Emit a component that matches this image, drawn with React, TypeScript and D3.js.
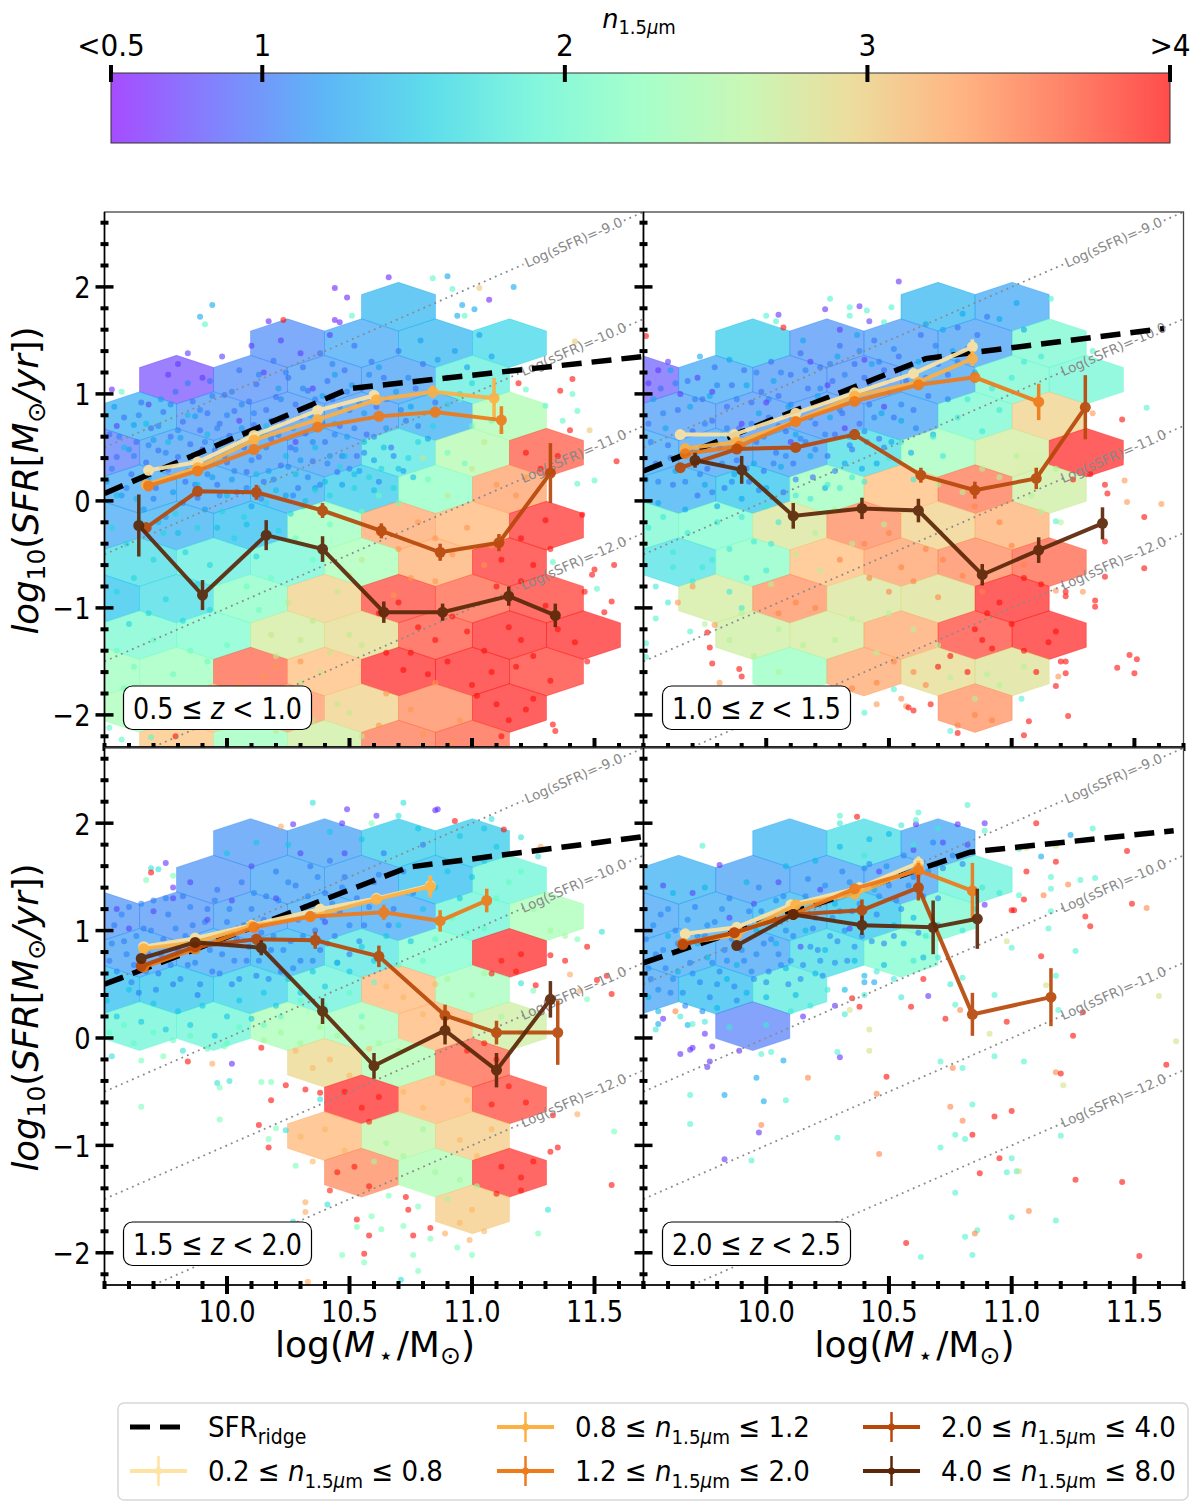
import React from 'react';
import * as d3 from 'd3';

const FONT = '"DejaVu Sans", sans-serif';
const xDomain: [number, number] = [9.5, 11.7];
const yDomain: [number, number] = [-2.3, 2.7];
const xMajor = [10, 10.5, 11, 11.5];
const xMinor = [9.5, 9.6, 9.7, 9.8, 9.9, 10.1, 10.2, 10.3, 10.4, 10.6, 10.7, 10.8, 10.9, 11.1, 11.2, 11.3, 11.4, 11.6, 11.7];
const yMajor = [-2, -1, 0, 1, 2];
const yMinor = [-2.2, -1.8, -1.6, -1.4, -1.2, -0.8, -0.6, -0.4, -0.2, 0.2, 0.4, 0.6, 0.8, 1.2, 1.4, 1.6, 1.8, 2.2, 2.4, 2.6];
const ssfrValues = [-9, -10, -11, -12];
const cbarTicks = [0.5, 1, 2, 3, 4];
const cbarLabels = ['<0.5', '1', '2', '3', '>4'];
const cbarStops = [0, 0.1, 0.2, 0.3, 0.4, 0.5, 0.6, 0.7, 0.8, 0.9, 1];
const zLabels = [['0.5', '1.0'], ['1.0', '1.5'], ['1.5', '2.0'], ['2.0', '2.5']];
const legendRanges = [['0.2', '0.8'], ['0.8', '1.2'], ['1.2', '2.0'], ['2.0', '4.0'], ['4.0', '8.0']];
const seriesColors = ['#fee3a2', '#fdb043', '#ee7a1a', '#b8480a', '#5c2708'];

// hexagon lattice of the binned maps
const hexX0 = 10.70, hexXStep = 0.151, hexY0 = 1.815, hexYStep = 0.341;

// each row: list of [column, median n]
const hex1 = [
  [[0, 1.3]],
  [[-3, 1.05], [-1, 1.2], [1, 1.3], [3, 1.55]],
  [[-6, 0.72], [-4, 1.05], [-2, 1.12], [0, 1.15], [2, 1.8]],
  [[-7, 1.25], [-5, 1.1], [-3, 1.1], [-1, 1.12], [1, 1.25], [3, 2.45]],
  [[-8, 0.95], [-6, 1.15], [-4, 1.15], [-2, 1.15], [0, 1.7], [2, 2.5], [4, 3.75]],
  [[-7, 1.2], [-5, 1.2], [-3, 1.25], [-1, 1.45], [1, 2.2], [3, 3.35]],
  [[-8, 1.2], [-6, 1.25], [-4, 1.35], [-2, 2.3], [0, 3.3], [2, 3.2], [4, 3.95]],
  [[-7, 1.6], [-5, 1.8], [-3, 1.95], [-1, 2.4], [1, 3.25], [3, 3.95]],
  [[-8, 1.4], [-6, 1.6], [-4, 2.15], [-2, 3.0], [0, 3.85], [2, 3.7], [4, 3.9]],
  [[-7, 2.0], [-5, 2.05], [-3, 2.75], [-1, 2.9], [1, 3.8], [3, 4], [5, 4]],
  [[-8, 2.3], [-6, 2.3], [-4, 3.7], [-2, 3.15], [0, 4], [2, 4], [4, 3.9]],
  [[-7, 2.4], [-5, 3.1], [-3, 3.4], [-1, 3.0], [1, 3.5], [3, 4]],
  [[-6, 3.1], [-4, 2.3], [-2, 2.7], [0, 3.6], [2, 3.7]],
];
const hex2 = [
  [[0, 1.3], [2, 1.2]],
  [[-5, 1.45], [-3, 1.08], [-1, 1.12], [1, 1.15], [3, 2.0]],
  [[-8, 0.8], [-6, 1.2], [-4, 1.1], [-2, 1.08], [0, 1.18], [2, 2.0], [4, 1.95]],
  [[-7, 1.12], [-5, 1.1], [-3, 1.1], [-1, 1.18], [1, 2.0], [3, 3.0]],
  [[-8, 1.2], [-6, 1.18], [-4, 1.18], [-2, 1.6], [0, 2.35], [2, 2.75], [4, 4]],
  [[-7, 1.25], [-5, 1.4], [-3, 2.3], [-1, 3.15], [1, 3.6], [3, 2.7]],
  [[-8, 2.0], [-6, 2.05], [-4, 2.8], [-2, 3.5], [0, 3.0], [2, 3.25]],
  [[-7, 1.65], [-5, 2.15], [-3, 3.15], [-1, 3.35], [1, 3.5], [3, 3.7]],
  [[-6, 2.75], [-4, 3.45], [-2, 2.8], [0, 2.85], [2, 4]],
  [[-5, 2.7], [-3, 2.75], [-1, 3.3], [1, 3.85], [3, 4]],
  [[-4, 2.25], [-2, 3.3], [0, 2.9], [2, 2.85]],
  [[1, 3.45]],
];
const hex3 = [
  [[-4, 1.1], [-2, 1.15], [0, 1.45], [2, 1.45]],
  [[-5, 1.08], [-3, 1.18], [-1, 1.18], [1, 1.35], [3, 1.9]],
  [[-8, 1.08], [-6, 1.08], [-4, 1.15], [-2, 1.2], [0, 1.2], [2, 1.9], [4, 2.4]],
  [[-7, 1.15], [-5, 1.2], [-3, 1.3], [-1, 1.7], [1, 2.05], [3, 4]],
  [[-8, 1.35], [-6, 1.4], [-4, 1.5], [-2, 1.85], [0, 3.2], [2, 2.35]],
  [[-7, 1.9], [-5, 1.9], [-3, 2.4], [-1, 2.35], [1, 3.2], [3, 2.7]],
  [[-2, 2.95], [0, 2.45], [2, 3.7]],
  [[-1, 4], [1, 3.2], [3, 3.85]],
  [[-2, 3.2], [0, 2.6], [2, 3.05]],
  [[-1, 3.5], [1, 2.45], [3, 3.95]],
  [[2, 3.05]],
];
const hex4 = [
  [[-4, 1.28], [-2, 1.6], [0, 1.18]],
  [[-7, 1.25], [-5, 1.15], [-3, 1.18], [-1, 1.18], [1, 1.85]],
  [[-8, 1.18], [-6, 1.22], [-4, 1.3], [-2, 1.4], [0, 2.0]],
  [[-7, 1.2], [-5, 1.18], [-3, 1.6], [-1, 2.05]],
  [[-8, 1.18], [-6, 1.35], [-4, 1.75]],
  [[-5, 0.98]],
];

// ridge lines
const ridge1 = [[9.5, 0.07], [10.5, 1.05], [11.7, 1.35]];
const ridge2 = [[9.5, 0.28], [10.65, 1.33], [11.62, 1.61]];
const ridge3 = [[9.5, 0.5], [10.74, 1.59], [11.7, 1.875]];
const ridge4 = [[9.5, 0.7], [10.83, 1.73], [11.66, 1.93]];

// median tracks: mass, sfr, error
const track1 = [
  { x: [9.68, 9.88, 10.11, 10.37, 10.6], y: [0.286, 0.363, 0.612, 0.845, 0.985], e: [0.03, 0.03, 0.03, 0.03, 0.05] },
  { x: [9.67, 9.88, 10.11, 10.37, 10.61, 10.84, 11.09], y: [0.15, 0.31, 0.57, 0.76, 0.945, 1.02, 0.96], e: [0.03, 0.03, 0.03, 0.03, 0.04, 0.06, 0.19] },
  { x: [9.68, 9.88, 10.11, 10.37, 10.62, 10.85, 11.12], y: [0.14, 0.28, 0.48, 0.69, 0.79, 0.83, 0.755], e: [0.03, 0.03, 0.03, 0.03, 0.04, 0.05, 0.13] },
  { x: [9.67, 9.88, 10.12, 10.39, 10.63, 10.87, 11.11, 11.32], y: [-0.25, 0.09, 0.08, -0.09, -0.28, -0.48, -0.39, 0.26], e: [0.05, 0.03, 0.07, 0.07, 0.07, 0.08, 0.08, 0.28] },
  { x: [9.64, 9.9, 10.16, 10.39, 10.64, 10.88, 11.15, 11.34], y: [-0.23, -0.88, -0.32, -0.45, -1.04, -1.04, -0.89, -1.07], e: [0.29, 0.14, 0.14, 0.12, 0.1, 0.08, 0.09, 0.11] },
];
const track2 = [
  { x: [9.65, 9.87, 10.12, 10.36, 10.6, 10.84], y: [0.62, 0.62, 0.82, 1.01, 1.19, 1.44], e: [0.03, 0.03, 0.03, 0.03, 0.03, 0.07] },
  { x: [9.67, 9.88, 10.12, 10.36, 10.62, 10.84], y: [0.49, 0.55, 0.745, 0.98, 1.11, 1.33], e: [0.03, 0.03, 0.03, 0.03, 0.03, 0.07] },
  { x: [9.67, 9.89, 10.12, 10.36, 10.62, 10.85, 11.11], y: [0.44, 0.51, 0.74, 0.93, 1.085, 1.155, 0.925], e: [0.03, 0.03, 0.03, 0.03, 0.03, 0.05, 0.17] },
  { x: [9.65, 9.88, 10.12, 10.36, 10.63, 10.85, 11.1, 11.3], y: [0.31, 0.485, 0.5, 0.62, 0.24, 0.1, 0.21, 0.875], e: [0.03, 0.04, 0.04, 0.05, 0.07, 0.08, 0.1, 0.3] },
  { x: [9.71, 9.9, 10.11, 10.39, 10.62, 10.88, 11.11, 11.37], y: [0.38, 0.29, -0.14, -0.07, -0.09, -0.69, -0.46, -0.21], e: [0.07, 0.13, 0.12, 0.1, 0.11, 0.1, 0.12, 0.15] },
];
const track3 = [
  { x: [9.66, 9.87, 10.1, 10.38, 10.61, 10.83], y: [0.85, 0.93, 1.05, 1.2, 1.3, 1.42], e: [0.03, 0.03, 0.03, 0.03, 0.04, 0.09] },
  { x: [9.66, 9.87, 10.1, 10.34, 10.61, 10.83], y: [0.83, 0.89, 1.04, 1.13, 1.29, 1.41], e: [0.03, 0.03, 0.03, 0.03, 0.04, 0.1] },
  { x: [9.66, 9.87, 10.11, 10.34, 10.64, 10.87, 11.06], y: [0.66, 0.83, 1.03, 1.13, 1.17, 1.09, 1.28], e: [0.03, 0.03, 0.03, 0.05, 0.07, 0.1, 0.11] },
  { x: [9.65, 9.87, 10.12, 10.36, 10.62, 10.89, 11.1, 11.35], y: [0.67, 0.85, 0.92, 0.91, 0.76, 0.21, 0.05, 0.05], e: [0.03, 0.04, 0.05, 0.08, 0.1, 0.1, 0.11, 0.3] },
  { x: [9.65, 9.87, 10.14, 10.39, 10.6, 10.89, 11.1, 11.32], y: [0.74, 0.89, 0.84, 0.25, -0.26, 0.07, -0.3, 0.36], e: [0.04, 0.04, 0.07, 0.12, 0.12, 0.13, 0.16, 0.17] },
];
const track4 = [
  { x: [9.67, 9.88, 10.1, 10.38, 10.62], y: [0.97, 1.03, 1.24, 1.4, 1.63], e: [0.03, 0.03, 0.03, 0.03, 0.06] },
  { x: [9.66, 9.88, 10.12, 10.36, 10.62], y: [0.88, 0.96, 1.24, 1.34, 1.58], e: [0.03, 0.03, 0.03, 0.03, 0.07] },
  { x: [9.66, 9.87, 10.11, 10.36, 10.62, 10.84], y: [0.88, 0.98, 1.15, 1.39, 1.56, 1.37], e: [0.03, 0.04, 0.04, 0.04, 0.07, 0.26] },
  { x: [9.66, 9.87, 10.11, 10.39, 10.62, 10.84, 11.16], y: [0.87, 0.98, 1.15, 1.19, 1.4, 0.22, 0.38], e: [0.03, 0.03, 0.05, 0.1, 0.12, 0.2, 0.27] },
  { x: [9.88, 10.11, 10.39, 10.68, 10.86], y: [0.86, 1.15, 1.05, 1.03, 1.11], e: [0.04, 0.05, 0.09, 0.25, 0.28] },
];

// scatter points: each list starts with n, then mass, sfr pairs
const dots1 = [
  [1.0, 9.52,.62,9.55,.41,9.58,.78,9.61,.25,9.63,.55,9.65,.92,9.67,.36,9.69,.68,9.71,.12,9.72,.47,9.74,.83,9.76,.29,9.77,.6,9.79,1.02,9.8,.41,9.82,.74,9.83,.18,9.85,.53,9.86,.93,9.88,.03,9.89,.66,9.9,.32,9.92,.82,9.93,1.12,9.95,.47,9.96,.15,9.97,.72,9.99,.99,10.0,.36,10.01,.61,10.03,.84,10.04,.08,10.05,1.22,10.07,.5,10.08,.27,10.09,.93,10.11,.71,10.12,1.09,10.13,.41,10.15,.18,10.16,.85,10.18,.58,10.19,1.31,10.2,.97,10.22,.33,10.23,.74,10.25,1.15,10.26,.5,10.28,.9,10.29,.12,10.31,1.25,10.32,.63,10.33,1.03,10.35,.37,10.37,.82,10.38,1.38,10.4,.55,10.41,1.12,10.43,.95,10.45,.27,10.46,.7,10.48,1.22,10.5,.85,10.52,1.45,10.53,.42,10.55,1.05,10.57,.62,10.59,1.3,10.61,.88,10.64,1.15,10.67,.5,10.7,1.4,10.73,.75,10.77,1.05,10.8,1.28,10.85,.92,10.9,1.15],
  [1.1, 9.53,.3,9.56,.6,9.59,.12,9.62,.42,9.64,.8,9.66,.2,9.68,.52,9.7,.02,9.72,.7,9.75,.45,9.77,.9,9.78,.22,9.8,.66,9.82,-.02,9.84,1.1,9.86,.42,9.87,.15,9.89,.85,9.91,.55,9.92,.25,9.94,.98,9.96,.68,9.97,.05,9.99,.42,10.0,.8,10.02,1.02,10.03,.28,10.05,.55,10.06,.9,10.08,.12,10.1,.38,10.11,.82,10.13,1.18,10.14,.02,10.16,.5,10.18,.75,10.19,.2,10.21,.62,10.22,.95,10.24,1.2,10.25,.32,10.27,.05,10.28,.48,10.3,.78,10.31,1.05,10.33,.22,10.35,.55,10.36,.95,10.38,.15,10.39,.72,10.41,.35,10.43,1.28,10.44,.62,10.46,.88,10.47,.42,10.49,1.02,10.5,.3,10.52,.68,10.54,.92,10.56,.45,10.58,1.18,10.6,.6,10.62,.18,10.65,.95,10.68,.42,10.71,.85,10.74,1.15,10.78,.7],
  [1.25, 9.51,.18,9.54,.88,9.57,.05,9.6,.48,9.62,.71,9.66,-.08,9.68,.22,9.7,.57,9.73,.95,9.75,-.15,9.78,.08,9.81,.59,9.84,.28,9.87,.79,9.91,-.08,9.94,.22,9.98,.55,10.02,.2,10.06,.68,10.1,-.05,10.14,.63,10.17,.28,10.21,1.05,10.24,.05,10.27,.68,10.3,.38,10.34,.8,10.36,.12,10.39,.98,10.42,.42,10.44,1.18,10.47,.15,10.49,.6,10.51,1.08,10.54,.28,10.56,.82,10.6,.38,10.62,1.25,10.65,.68,10.69,1.02,10.72,.28,10.75,.88,10.79,1.5,10.82,.58,10.86,1.32,10.93,1.4,10.98,1.25,11.03,1.55,11.08,1.35],
  [1.45, 9.55,.05,9.58,.5,9.63,.02,9.67,.72,9.72,-.2,9.76,.55,9.8,-.3,9.84,.8,9.88,.15,9.92,.62,9.96,-.25,10.0,.05,10.04,.5,10.08,-.22,10.12,.25,10.16,.7,10.2,.1,10.24,.42,10.28,.25,10.32,.0,10.36,.5,10.4,.18,10.44,.72,10.48,.42,10.52,.25,10.56,.55,10.6,.1,10.64,.5,10.7,.3,10.76,.22],
  [1.6, 9.53,-.25,9.59,-.4,9.64,-.18,9.7,-.55,9.74,-.3,9.79,-.12,9.83,-.48,9.88,-.25,9.93,-.6,9.98,-.1,10.03,-.35,10.07,-.15,10.12,-.52,10.16,-.02,10.21,-.28,10.26,-.12,10.31,-.05,10.36,.1,10.42,.05,10.46,.32,10.52,.12,10.58,.22,10.63,.3,10.68,.12,10.74,.4,10.78,.55,10.84,.7,10.9,.9,10.95,1.0,11.0,1.1,9.55,-.85,9.62,-.72,9.68,-1.05,9.75,-.92,9.82,-1.12,9.88,-.78,9.93,-1.02,9.6,-1.15],
  [0.75, 9.8,1.28,9.84,1.38,9.76,1.18,9.9,1.15,9.98,1.35,10.1,1.45,10.22,1.5,10.3,1.38,10.42,1.55,10.15,1.2,9.68,.9,9.55,.7,9.9,.48,10.05,.75,10.28,.55,10.35,1.05],
  [2.1, 9.55,-1.4,9.62,-1.55,9.7,-1.3,9.78,-1.62,9.85,-1.4,9.92,-1.5,10.0,-1.35,10.08,-.8,10.13,-1.02,10.18,-.72,10.28,-.35,10.35,-.55,10.42,-.22,10.55,-.1,10.62,.05,10.7,-.02,10.82,.2,10.9,.45,10.97,.35,11.0,.7,9.58,-1.75,9.7,-1.85,9.83,-1.78,10.95,.95,11.08,.75],
  [2.7, 10.25,-.95,10.35,-1.12,10.45,-.85,10.5,-1.25,10.42,-1.42,10.3,-1.3,10.2,-1.45,10.18,-1.25,10.38,-1.6,10.5,-.7,10.55,-.55,10.9,.05,11.0,.3,11.05,.55,11.12,.65,10.8,.4,10.55,-1.35,10.3,-1.7,10.45,-1.9,10.35,-2.05,10.5,-1.98,10.55,-2.2,10.2,-2.15],
  [3.3, 10.62,-.3,10.7,-.45,10.78,-.2,10.85,-.35,10.92,-.5,10.98,-.25,11.05,-.6,10.75,-.72,10.85,-.75,10.68,-.88,11.1,.15,11.18,.05,11.22,.22,10.15,-1.65,10.05,-1.72,10.2,-1.55,10.3,-1.5,10.65,-1.8,10.75,-1.95,10.85,-1.7,10.95,-2.05,10.62,-2.1,10.8,-2.18,10.92,-2.25,11.08,-.42],
  [3.95, 10.62,-1.05,10.7,-.95,10.78,-1.18,10.85,-1.3,10.92,-1.08,10.98,-1.22,11.05,-1.4,11.1,-.8,11.15,-1.18,11.2,-1.3,11.25,-1.45,11.3,-.98,11.35,-1.2,11.42,-1.32,11.47,-1.5,10.72,-1.58,10.82,-1.62,10.9,-1.5,11.0,-1.72,11.08,-1.6,11.18,-1.55,11.25,-1.85,11.32,-1.68,10.65,-1.42,10.75,-1.42,11.02,-1.82,11.1,-1.9,11.15,-2.05,11.22,-1.95,11.12,-2.2,11.2,-.35,11.25,-.6,11.32,-.45,11.22,.45,11.28,.3,11.35,.42,11.3,-.18,11.2,-.75,11.12,-.55],
  [0.65, 9.53,1.04,10.17,1.68,10.44,1.99,10.49,1.9,10.44,1.69,10.46,1.67,10.66,2.09,11.07,1.88],
  [1.3, 9.89,1.72,9.94,1.83,10.96,1.83,10.94,1.73,11.01,1.79,10.9,2.1,11.17,2.0],
  [2.0, 9.57,1.02,9.91,1.65,10.51,1.73,10.84,2.08,10.92,1.98,10.97,1.73,11.22,1.04,11.41,1.0,11.3,.89,11.37,.75,11.43,.84,11.43,.16,11.5,.19,11.33,-.57,11.51,-.82,9.52,-2.12,9.57,-2.23,9.69,-2.21],
  [3.0, 11.03,1.99,11.42,1.49,11.48,.66],
  [3.95, 10.23,1.69,11.41,1.14,11.36,1.03,11.19,1.1,11.4,.66,11.59,.37,11.45,-.13,11.5,-.64,11.49,-.69,11.58,-.6,11.46,-.85,11.57,-.94,11.54,-1.04,11.33,-2.09,11.34,-2.15,9.79,-2.2],
];
const dots2 = [
  [1.0, 9.52,.72,9.55,.35,9.57,1.05,9.6,.52,9.62,.15,9.64,.85,9.66,.42,9.68,1.12,9.7,.65,9.72,.05,9.74,.95,9.76,.3,9.78,.75,9.79,1.25,9.81,.5,9.83,.12,9.84,.88,9.86,1.08,9.88,.38,9.89,.68,9.91,1.22,9.93,.18,9.94,.92,9.96,.55,9.98,1.02,9.99,.28,10.01,.78,10.02,1.3,10.04,.45,10.05,.98,10.07,.08,10.08,.65,10.1,1.18,10.11,.35,10.13,.85,10.14,1.38,10.16,.55,10.17,1.05,10.19,.22,10.2,.72,10.22,1.25,10.23,.92,10.25,.42,10.27,1.12,10.28,.62,10.3,1.45,10.31,.82,10.33,1.02,10.35,.48,10.36,1.28,10.38,.72,10.4,1.15,10.42,.9,10.44,1.5,10.46,.58,10.48,1.22,10.5,1.02,10.52,.78,10.54,1.35,10.57,1.12,10.6,.85,10.63,1.55,10.66,.98,10.7,1.28,10.74,1.18,10.78,1.62,10.82,1.42,10.86,1.55,10.9,1.72],
  [1.1, 9.53,.55,9.56,.18,9.58,.82,9.61,.4,9.63,1.1,9.65,.62,9.67,.18,9.69,.48,9.71,.95,9.73,.25,9.75,.72,9.77,.52,9.78,.08,9.8,1.08,9.82,.35,9.84,.68,9.86,.18,9.88,.95,9.9,.5,9.92,.3,9.94,.72,9.96,1.2,9.97,.1,9.99,.6,10.01,.95,10.03,.35,10.05,.7,10.06,1.2,10.08,.42,10.1,.9,10.12,.2,10.14,.58,10.16,1.22,10.18,.78,10.2,.48,10.22,1.05,10.24,.62,10.26,1.28,10.28,.28,10.3,.85,10.32,1.18,10.34,.52,10.36,.92,10.38,1.4,10.4,.65,10.42,1.1,10.44,.78,10.46,1.3,10.48,.5,10.5,1.12,10.52,1.42,10.55,.9,10.58,1.25,10.61,.68,10.65,1.15,10.69,1.45,10.74,.95,10.78,1.3],
  [1.3, 9.51,.2,9.54,.95,9.56,-.02,9.59,.68,9.61,1.22,9.63,.28,9.67,-.08,9.69,.88,9.71,.45,9.73,1.35,9.75,.15,9.77,.98,9.8,-.05,9.82,.62,9.85,1.32,9.87,.25,9.9,.02,9.92,1.08,9.95,.35,9.97,.82,10.0,.12,10.03,1.12,10.06,.32,10.09,.88,10.12,.62,10.15,1.5,10.18,.42,10.21,.98,10.24,.12,10.26,.78,10.29,1.35,10.32,.35,10.34,.6,10.37,1.55,10.39,.3,10.41,.55,10.43,1.28,10.45,.35,10.47,.82,10.51,.55,10.55,.75,10.59,.45,10.62,1.3,10.65,1.65,10.68,.62,10.72,1.6,10.76,1.4,10.8,1.75,10.85,1.2,10.95,1.7,11.02,1.85,11.05,1.6],
  [0.75, 9.52,1.1,9.56,1.22,9.6,1.3,9.65,1.0,9.72,1.15,9.78,1.02,9.9,.72,10.0,.92,10.1,.55,10.18,1.3,10.25,1.08,10.32,.68,10.4,1.32,10.48,.88,10.3,1.6,10.42,1.68],
  [1.8, 9.52,-.25,9.58,-.15,9.62,-.48,9.68,-.3,9.74,-.62,9.8,-.2,9.85,-.45,9.9,-.15,9.95,-.38,10.0,-.05,10.05,-.2,10.12,.05,10.18,.02,10.25,.15,10.3,.12,10.35,.22,10.4,.18,10.5,.4,10.55,.55,10.6,.2,10.68,.6,10.72,.42,10.78,.78,10.82,.95,10.88,.65,10.92,1.05,10.95,.85,11.0,1.15,11.05,1.3,11.12,1.35,9.55,-.8,9.62,-.62,9.7,-.75,9.78,-.55,9.85,-.85,9.92,-.72,10.0,-.65,10.02,-.4,9.9,-1.0,9.6,-.95],
  [2.6, 10.1,-.15,10.2,-.3,10.28,-.08,10.35,-.4,10.12,-.5,10.22,-.65,10.02,-.78,10.7,.15,10.8,.08,10.88,.3,10.95,.22,11.02,.42,11.08,.05,11.12,-.1,11.2,-.2,11.18,.3,10.48,-.22,9.9,-1.05,9.75,-1.15,9.85,-1.3,9.95,-1.45,10.05,-1.2,10.15,-1.35,10.28,-1.3,10.35,-1.1,10.5,-1.05,10.6,-1.2,10.7,-1.35,10.45,-1.42,10.05,-1.6,10.15,-1.75,10.75,-1.65,10.85,-1.85,10.95,-1.72,11.05,-1.55,10.9,-1.62],
  [3.4, 10.3,-.55,10.4,-.4,10.5,-.3,10.55,-.62,10.65,-.45,10.72,-.55,10.85,-.05,10.95,-.2,11.0,-.42,11.05,-.6,10.42,-.72,10.5,-.85,10.6,-.75,10.7,-.9,10.12,-.95,10.2,-1.0,10.05,-1.05,10.52,-1.5,10.6,-1.6,10.45,-1.7,10.55,-1.85,10.65,-1.72,10.35,-1.75,10.85,-2.0,10.92,-2.05,10.78,-2.1,10.88,-.85,10.8,-.7],
  [3.95, 10.9,-1.05,10.85,-1.2,10.95,-.95,11.0,-1.15,10.88,-1.3,10.75,-1.45,10.82,-1.6,10.92,-1.38,10.7,-1.55,11.05,-1.4,11.15,-1.32,11.22,-1.5,11.1,-1.6,11.18,-1.22,11.05,-.72,11.12,-.78,11.25,.2,11.32,.25,11.38,.15],
  [0.7, 10.54,2.05,10.24,1.79,10.38,1.82,10.05,1.74],
  [1.9, 10.26,1.89,10.34,1.81,10.41,1.78,10.34,1.73,10.51,1.81,10.0,1.73,10.04,1.68,10.48,1.67,11.16,1.89,11.33,1.4,11.55,.87,11.18,-.19,9.69,-1.22,9.55,-1.1,9.51,-1.33,9.51,-1.46,10.52,-1.76,10.4,-1.98,10.75,-2.15,11.04,-1.85],
  [3.3, 11.33,.82,11.46,.19,11.47,-.01,11.61,-.03,11.29,-.85,9.79,-1.16,9.64,-.95,9.7,-.8,9.81,-1.7,11.18,-.84,11.19,-1.64,10.45,-1.9,10.57,-1.92],
  [3.95, 10.07,1.62,9.51,1.54,11.45,.76,11.39,.07,11.54,-.15,11.38,-.38,11.54,-.63,11.38,-.71,11.22,-.85,11.22,-.89,11.34,-.93,11.34,-.99,11.2,-1.5,11.48,-1.44,11.51,-1.48,11.43,-1.56,11.5,-1.61,11.22,-1.61,11.18,-1.73,11.07,-2.06,11.23,-2.01,11.05,-2.19,10.78,-2.17,10.67,-1.9,10.6,-1.96,10.58,-1.93,9.78,-1.52,9.89,-1.57,9.9,-1.64,9.77,-1.37,9.76,-1.23],
];
const dots3 = [
  [1.05, 9.52,.72,9.54,1.05,9.56,.55,9.58,.9,9.6,1.22,9.62,.68,9.64,.42,9.66,1.02,9.68,.78,9.7,1.28,9.72,.6,9.74,.92,9.76,1.15,9.78,.5,9.8,.82,9.82,1.32,9.84,.68,9.86,1.05,9.88,.4,9.9,.88,9.92,1.2,9.94,.62,9.96,1.38,9.98,.78,10.0,1.08,10.02,.5,10.04,.92,10.06,1.45,10.08,.72,10.1,1.2,10.12,.58,10.14,.98,10.16,1.32,10.18,.82,10.2,1.55,10.22,.62,10.24,1.1,10.26,.9,10.28,1.42,10.3,.72,10.32,1.22,10.34,1.6,10.36,1.0,10.38,.82,10.4,1.35,10.42,1.65,10.44,.95,10.46,1.18,10.48,1.5,10.5,.78,10.53,1.3,10.56,1.05,10.6,1.45,10.64,1.72,10.68,1.2,10.72,1.55,10.76,1.35,10.8,1.8],
  [1.1, 9.53,.88,9.55,.62,9.57,1.15,9.59,.78,9.61,.52,9.63,.95,9.65,1.25,9.67,.62,9.69,1.0,9.71,.45,9.73,.78,9.75,1.3,9.77,.68,9.79,1.02,9.81,.55,9.83,.95,9.85,1.22,9.87,.7,9.89,.5,9.91,1.08,9.93,.82,9.95,1.28,9.97,.6,9.99,.95,10.01,1.2,10.03,.72,10.05,.55,10.07,1.05,10.09,.85,10.11,1.35,10.13,.72,10.15,1.1,10.17,.55,10.19,.95,10.21,1.28,10.23,.82,10.25,1.45,10.27,.65,10.29,1.1,10.31,.95,10.33,1.32,10.35,.72,10.37,1.5,10.39,1.12,10.41,.88,10.43,1.25,10.45,.7,10.47,1.4,10.5,1.05,10.54,.9,10.58,1.22,10.62,1.52,10.66,1.05],
  [1.5, 9.51,.35,9.55,.2,9.6,.45,9.65,.15,9.7,.32,9.75,.08,9.8,.25,9.85,.12,9.9,.3,9.95,.02,10.0,.2,10.05,.35,10.1,.18,10.15,.42,10.2,.3,10.25,.55,10.3,.42,10.35,.62,10.4,.48,10.45,.7,10.5,.62,10.55,.85,10.6,.72,10.65,.95,10.7,1.05,10.75,.9,10.8,1.2,10.85,1.4,10.9,1.55,10.95,1.3,11.0,1.5,11.05,1.65,11.1,1.78,10.42,1.92,10.25,1.8,10.55,1.85,10.78,1.95,10.95,1.88,11.05,1.95,10.12,1.82,10.0,1.72],
  [0.8, 9.55,1.2,9.6,1.02,9.7,1.18,9.78,1.3,9.85,1.45,9.92,1.1,10.02,1.28,10.1,1.6,10.2,1.3,10.3,1.72,10.4,1.08,10.48,1.72],
  [2.05, 9.52,.05,9.58,.12,9.62,-.05,9.7,.05,9.78,-.02,9.85,.02,9.92,-.1,10.0,-.05,10.05,.1,10.15,.12,10.22,.2,10.3,.35,10.4,.3,10.5,.42,10.55,.2,10.6,.52,10.7,.68,10.8,.72,10.85,.92,10.92,1.12,10.98,.98,11.05,1.02,11.1,1.3,11.15,1.45,11.2,1.55],
  [2.5, 10.15,-.02,10.22,.05,10.3,-.05,10.38,.1,10.45,.02,10.55,.1,10.62,-.05,10.7,-.12,10.9,.55,11.0,.4,11.05,.6,11.12,.2,11.2,.05,11.25,1.2,11.32,1.0,11.38,.95,10.65,-.98,10.72,-1.1,10.6,-1.15,10.8,-.85,10.85,-1.25,10.95,-1.32,11.02,-1.38,10.9,-1.5],
  [3.1, 10.28,-.12,10.35,-.28,10.42,-.2,10.5,-.35,10.58,-.1,10.65,.48,10.72,.38,10.8,.22,10.85,.5,10.9,.1,10.98,.15,10.72,-.5,10.8,-.65,10.88,-.42,10.98,-.58,10.3,-.92,10.4,-.85,10.48,-1.05,10.35,-1.15,10.95,-.95,11.02,-1.1,11.08,-.85,10.95,-1.72,11.05,-1.8,11.0,-1.6],
  [3.9, 10.48,-.5,10.55,-.65,10.62,-.55,10.58,-.78,11.05,-.05,11.1,-.2,10.98,-.12,11.15,-.45,11.22,-.6,11.08,-.62,11.12,.72,11.18,.62,11.2,.78,11.08,.6,11.12,-1.2,11.2,-1.3,11.25,-1.15,11.1,-1.45,11.2,-1.42,10.45,-1.25,10.52,-1.2,10.58,-1.38,10.42,-1.42],
  [0.7, 10.49,2.13,10.85,2.12,10.86,2.13,10.61,2.07,10.27,1.99,10.47,2.0,9.75,1.63,9.78,1.4,10.02,-.24],
  [1.7, 10.35,2.19,10.72,2.19,10.7,2.07,11.08,2.04,11.2,1.87,9.69,1.58,9.72,1.57,11.27,1.69,11.53,.99,11.2,.51,9.53,-.17,9.82,-.12,9.96,-.42,10.01,-.4,10.38,-.57,10.24,-.86,11.31,-1.6,10.41,-1.55,10.27,-1.71,10.71,-2.25],
  [2.2, 10.59,2.0,9.67,1.47,9.78,1.51,11.43,.92,11.25,.44,11.47,.36,9.65,-.21,9.74,-.17,9.99,-.08,9.97,-.46,10.14,-.41,10.18,-.41,9.97,-.76,10.2,-.84,10.17,-.94,11.58,-.87,11.27,-1.82,10.78,-1.57,10.66,-1.47,10.28,-1.19,10.53,-1.76,10.59,-1.66,10.63,-1.78,10.72,-1.75,10.83,-1.87,10.47,-2.02,10.56,-2.09,10.76,-2.02,10.78,-2.17,10.94,-1.95,11.0,-2.02,9.65,-.64],
  [3.2, 10.22,1.97,11.28,1.78,11.4,.59,11.44,.44,9.94,-.24,11.43,-.71,10.32,-1.53,10.32,-1.62,10.89,-1.82,10.99,-1.88,10.33,-2.27],
  [3.95, 10.93,2.02,11.13,1.94,9.69,1.54,11.47,.85,11.32,.77,11.38,.72,11.26,.49,11.51,.54,11.55,.58,11.57,.41,9.84,-.22,10.14,-.09,10.24,-.44,10.32,-.48,10.18,-.58,10.38,-.51,10.13,-.81,10.17,-1.02,11.33,-.72,11.35,-1.02,11.32,-1.06,11.57,-1.37,10.73,-1.48,10.74,-1.6,10.53,-1.69,10.58,-1.84,10.76,-1.84,10.83,-1.77,10.56,-2.01],
];
const dots4 = [
  [1.1, 9.51,.92,9.53,.55,9.55,.78,9.57,1.15,9.59,.65,9.61,.42,9.63,1.0,9.65,.85,9.67,.3,9.69,.7,9.71,1.22,9.73,.52,9.75,.95,9.77,.38,9.79,1.08,9.81,.62,9.83,.82,9.85,1.3,9.87,.48,9.89,.98,9.91,.72,9.93,1.18,9.95,.55,9.97,1.4,9.99,.88,10.01,.62,10.03,1.1,10.05,.78,10.07,1.32,10.09,.5,10.11,.95,10.13,1.22,10.15,.68,10.17,1.48,10.19,1.02,10.21,.82,10.23,.58,10.25,1.3,10.27,1.12,10.29,.9,10.31,1.55,10.33,.72,10.35,1.18,10.37,1.38,10.39,.95,10.42,1.62,10.45,1.15,10.48,.88,10.5,1.42,10.53,1.28,10.56,1.7,10.6,1.5,10.64,1.32,10.68,1.82,10.72,1.58,10.76,1.7,10.8,1.62],
  [1.15, 9.52,.65,9.54,1.05,9.56,.45,9.58,.82,9.6,1.2,9.62,.55,9.64,.88,9.66,.42,9.68,1.1,9.7,.6,9.72,.95,9.74,.25,9.76,1.05,9.78,.7,9.8,.5,9.82,1.2,9.84,.72,9.86,.92,9.88,.35,9.9,.82,9.92,1.05,9.94,.62,9.96,.78,9.98,1.18,10.0,.52,10.02,.92,10.04,1.28,10.06,.68,10.08,1.0,10.1,.72,10.12,1.15,10.14,.55,10.16,1.32,10.18,.85,10.2,1.12,10.22,.72,10.24,1.42,10.26,.95,10.28,.7,10.3,1.18,10.32,1.0,10.34,1.45,10.36,.85,10.38,1.25,10.4,1.58,10.43,.9,10.46,1.32,10.49,1.6,10.52,.95,10.55,1.2,10.58,1.42,10.62,.98,10.66,1.55,10.7,1.3],
  [1.4, 9.52,.38,9.56,.25,9.6,.95,9.64,.62,9.68,.12,9.72,.88,9.76,.75,9.8,.28,9.84,.55,9.88,.68,9.92,.42,9.96,1.0,10.0,.38,10.04,.88,10.08,.65,10.12,.4,10.16,1.0,10.2,.6,10.24,.82,10.28,1.25,10.32,.45,10.36,.72,10.4,.58,10.44,1.38,10.48,.68,10.52,1.05,10.56,.88,10.6,1.12,10.64,.75,10.7,1.05,10.3,1.78,10.2,1.65,10.42,1.85,10.5,1.9,10.08,1.6,9.92,1.45,9.75,1.4,9.62,1.35],
  [0.8, 9.58,1.42,9.7,1.35,9.85,1.12,9.95,1.25,10.05,1.45,10.14,.85,10.22,1.38,10.34,1.02,10.46,1.55,10.6,1.75,10.72,1.82,10.82,1.8],
  [1.8, 9.55,.08,9.65,.2,9.75,.15,9.85,.1,10.0,.12,10.1,.25,10.18,.3,10.25,.45,10.32,.22,10.4,.4,10.45,.62,10.52,.55,10.55,.38,10.6,.72,10.65,.95,10.7,.75,10.75,.5,10.8,1.0,10.85,1.2,10.88,1.4,10.95,1.35,10.4,1.7,10.3,2.0,10.55,1.98,10.6,1.8,10.7,1.95],
  [0.7, 10.61,1.99,10.89,2.0,10.78,1.99,9.81,1.61,10.89,1.24,10.66,.39,10.28,.3,10.15,.2,9.58,.18,9.75,.04,9.78,-.08,9.7,-.09,9.69,-.11,9.65,-.15,9.89,-.12,9.77,-.22,9.76,-.27,10.3,-.18,9.97,-.88,9.83,-1.13],
  [1.3, 11.24,1.89,11.12,1.69,10.4,.52,10.44,.52,9.56,.13,9.96,-.37,9.83,-.53,9.99,-.59,10.07,-.21],
  [1.9, 10.82,2.17,10.62,2.1,10.3,2.07,10.61,2.03,11.33,1.95,10.89,1.93,9.74,1.79,11.03,1.76,11.16,1.5,11.28,1.47,11.34,1.49,11.16,1.39,11.03,1.33,11.16,1.18,11.15,1.02,11.0,.84,10.93,.4,10.8,.56,10.77,.31,9.7,.13,9.98,-.15,10.02,-.13,10.71,-.22,10.8,-.28,10.93,-.17,11.05,-.22,9.69,-.53,10.08,-.58,9.69,-.8,9.94,-1.14,10.29,-.93,10.84,-.62,10.77,-.9,10.71,-1.02,10.81,-.94,11.0,-1.12,10.98,-1.25,11.02,-1.24,11.2,-.91,10.77,-1.44,11.0,-1.67,11.18,-1.7,10.86,-1.79,10.81,-1.85,10.84,-2.02,10.63,-2.04,11.19,.26,11.18,.58,11.26,.81,10.29,-.13],
  [2.8, 11.18,1.79,11.06,1.77,10.98,.9,11.14,.49,11.6,.39,10.91,.04,11.67,-.03,10.34,.26,10.42,-.12,10.42,.08,11.21,-.44,11.03,-1.24],
  [3.4, 11.23,1.43,11.13,1.33,11.55,1.21,9.63,.25,10.79,.26,10.76,-.28,10.17,-.37,10.45,-.52,10.75,-.64,10.8,-.77,10.46,-1.08,11.18,-.32,9.98,-.81,11.07,-1.61,10.85,-1.82],
  [3.95, 11.1,2.0,11.47,1.74,11.18,1.64,11.06,1.55,11.05,1.29,11.49,1.25,11.3,1.13,11.32,1.04,11.0,1.19,11.01,1.19,11.12,.76,11.29,.24,10.98,.15,11.25,.02,10.73,.18,10.59,.29,10.64,.55,10.35,.37,10.38,.29,10.37,2.06,11.2,-.33,11.63,-.25,10.49,-.36,10.93,-.73,11.0,-.68,10.84,-.9,10.87,-1.26,10.95,-1.12,11.26,-1.32,11.45,-1.34,10.57,-1.91,11.52,-2.03],
];

const allHex = [hex1, hex2, hex3, hex4];
const allRidge = [ridge1, ridge2, ridge3, ridge4];
const allTrack = [track1, track2, track3, track4];
const allDots = [dots1, dots2, dots3, dots4];

const panelBoxes = [
  { l: 104.5, r: 643.5, t: 212, b: 747, boxTop: 686 },
  { l: 643.5, r: 1183.5, t: 212, b: 747, boxTop: 686 },
  { l: 104.5, r: 643.5, t: 748, b: 1285, boxTop: 1222 },
  { l: 643.5, r: 1183.5, t: 748, b: 1285, boxTop: 1222 },
];

function rainbow(n: number, alpha: number) {
  const t = Math.max(0, Math.min(1, (n - 0.5) / 3.5));
  const c = (v: number) => Math.round(255 * Math.max(0, Math.min(1, v)));
  const r = c(Math.abs(2 * t - 0.5));
  const g = c(Math.sin(Math.PI * t));
  const b = c(Math.cos((Math.PI * t) / 2));
  return `rgba(${r},${g},${b},${alpha})`;
}

const Sub = ({ size }: { size: number }) => (
  <tspan dy={size * 0.24} fontSize={size * 0.7}>1.5<tspan fontStyle="italic">μ</tspan>m</tspan>
);

function Panel({ idx }: { idx: number }) {
  const box = panelBoxes[idx];
  const x = d3.scaleLinear().domain(xDomain).range([box.l, box.r]);
  const y = d3.scaleLinear().domain(yDomain).range([box.b, box.t]);
  const pw = hexXStep * (x(1) - x(0));
  const ph = (hexYStep * 2) / 3 * (y(0) - y(1));
  const hexPath = `M0,${-ph}L${pw},${-ph / 2}L${pw},${ph / 2}L0,${ph}L${-pw},${ph / 2}L${-pw},${-ph / 2}Z`;
  const line = d3.line<number[]>().x(d => x(d[0])).y(d => y(d[1]));
  const showX = idx >= 2;
  const clip = `clip${idx}`;
  return (
    <g>
      <defs><clipPath id={clip}><rect x={box.l} y={box.t} width={box.r - box.l} height={box.b - box.t} /></clipPath></defs>
      <rect x={box.l} y={box.t} width={box.r - box.l} height={box.b - box.t} fill="#fff" />
      <g clipPath={`url(#${clip})`}>
        {allHex[idx].map((row, r) => row.map(([c, n]) => (
          <path key={`${r}_${c}`} d={hexPath}
            transform={`translate(${x(hexX0 + c * hexXStep)},${y(hexY0 - r * hexYStep)})`}
            fill={rainbow(n, 0.62)} stroke={rainbow(n, 0.35)} strokeWidth={1} />
        )))}
        {allDots[idx].map((g, k) => d3.range(1, g.length, 2).map(i => (
          <circle key={`${k}_${i}`} cx={x(g[i])} cy={y(g[i + 1])} r={3} fill={rainbow(g[0], 0.6)} />
        )))}
        {ssfrValues.map(s => (
          <g key={s}>
            <path d={line([[9.5, 9.5 + s], [11.21, 11.21 + s]]) || ''} stroke="#8a8a8a" strokeWidth={1.8} strokeDasharray="1.8 4.2" fill="none" />
            <path d={line([[11.62, 11.62 + s], [11.7, 11.7 + s]]) || ''} stroke="#8a8a8a" strokeWidth={1.8} strokeDasharray="1.8 4.2" fill="none" />
            <text x={x(11.415)} y={y(11.415 + s)} dy={4.5} textAnchor="middle" fontFamily={FONT} fontSize={13.5} fill="#888"
              transform={`rotate(-23.6 ${x(11.415)} ${y(11.415 + s)})`}>{`Log(sSFR)=${s}.0`}</text>
          </g>
        ))}
        <path d={line(allRidge[idx]) || ''} stroke="#000" strokeWidth={5.5} strokeDasharray="20 10" fill="none" />
        {allTrack[idx].map((s, k) => (
          <g key={k} opacity={0.92}>
            <path d={line(s.x.map((v, i) => [v, s.y[i]])) || ''} stroke={seriesColors[k]} strokeWidth={4} fill="none" />
            {s.x.map((v, i) => (
              <g key={i}>
                <line x1={x(v)} x2={x(v)} y1={y(s.y[i] - s.e[i])} y2={y(s.y[i] + s.e[i])} stroke={seriesColors[k]} strokeWidth={3.5} />
                <circle cx={x(v)} cy={y(s.y[i])} r={5.5} fill={seriesColors[k]} />
              </g>
            ))}
          </g>
        ))}
      </g>
      <rect x={box.l} y={box.t} width={box.r - box.l} height={box.b - box.t} fill="none" stroke="#444" strokeWidth={1.3} />
      {yMinor.map(v => <line key={v} x1={box.l - 4} x2={box.l + 4} y1={y(v)} y2={y(v)} stroke="#000" strokeWidth={4} />)}
      {yMajor.map(v => <line key={v} x1={box.l - 9} x2={box.l + 9} y1={y(v)} y2={y(v)} stroke="#000" strokeWidth={3.5} />)}
      <line x1={box.l} x2={box.l} y1={box.t} y2={box.b} stroke="#000" strokeWidth={1.6} />
      {xMinor.map(v => <line key={v} x1={x(v)} x2={x(v)} y1={box.b - 4} y2={box.b + 4} stroke="#000" strokeWidth={4} />)}
      {xMajor.map(v => <line key={v} x1={x(v)} x2={x(v)} y1={box.b - 9} y2={box.b + 9} stroke="#000" strokeWidth={4} />)}
      <line x1={box.l} x2={box.r} y1={box.b} y2={box.b} stroke="#000" strokeWidth={1.6} />
      {idx % 2 === 0 && yMajor.map(v => (
        <text key={v} transform={`translate(${box.l - 14},${y(v) + 11.5}) scale(0.83,1)`} textAnchor="end" fontFamily={FONT} fontSize={31}>{d3.format('.0f')(v).replace('-', '−')}</text>
      ))}
      {showX && xMajor.map(v => (
        <text key={v} transform={`translate(${x(v)},${box.b + 37}) scale(0.83,1)`} textAnchor="middle" fontFamily={FONT} fontSize={31}>{d3.format('.1f')(v)}</text>
      ))}
      {showX && (
        <text x={(box.l + box.r) / 2 + 1} y={box.b + 72} textAnchor="middle" fontFamily={FONT} fontSize={36}>
          log(<tspan fontStyle="italic">M</tspan><tspan dx={3} dy={7} fontSize={25}>⋆</tspan><tspan dx={3} dy={-7}>/M</tspan><tspan dy={7} fontSize={25}>⊙</tspan><tspan dy={-7}>)</tspan>
        </text>
      )}
      {idx % 2 === 0 && (
        <text transform={`translate(38,${(box.t + box.b) / 2 + 1}) rotate(-90)`} textAnchor="middle" fontFamily={FONT} fontSize={35.5}>
          <tspan fontStyle="italic">log</tspan><tspan dy={7} fontSize={25}>10</tspan><tspan dy={-7}>(</tspan><tspan fontStyle="italic">SFR</tspan>[<tspan fontStyle="italic">M</tspan><tspan dy={7} fontSize={25}>⊙</tspan><tspan dy={-7} fontStyle="italic">/yr</tspan>])
        </text>
      )}
      <rect x={box.l + 19} y={box.boxTop} width={188} height={43.5} rx={9} fill="#fff" stroke="#000" strokeWidth={1.2} />
      <text transform={`translate(${box.l + 113},${box.boxTop + 33}) scale(0.82,1)`} textAnchor="middle" fontFamily={FONT} fontSize={31}>
        {zLabels[idx][0]} ≤ <tspan fontStyle="italic">z</tspan> &lt; {zLabels[idx][1]}
      </text>
    </g>
  );
}

function ColorBar() {
  const c = d3.scaleLinear().domain([0.5, 4]).range([111, 1170]);
  return (
    <g>
      <defs>
        <linearGradient id="cbar">
          {cbarStops.map(s => <stop key={s} offset={s} stopColor={rainbow(0.5 + s * 3.5, 0.7)} />)}
        </linearGradient>
      </defs>
      <rect x={c(0.5)} y={73} width={c(4) - c(0.5)} height={70} fill="url(#cbar)" stroke="#333" strokeWidth={1} />
      {cbarTicks.map((t, i) => (
        <g key={t}>
          <line x1={c(t)} x2={c(t)} y1={65} y2={82} stroke="#000" strokeWidth={4} />
          <text transform={`translate(${c(t)},56) scale(0.9,1)`} textAnchor="middle" fontFamily={FONT} fontSize={31}>{cbarLabels[i]}</text>
        </g>
      ))}
      <text transform="translate(639,28) scale(0.95,1)" textAnchor="middle" fontFamily={FONT} fontSize={27}>
        <tspan fontStyle="italic">n</tspan><Sub size={27} />
      </text>
    </g>
  );
}

function Legend() {
  const cols = [130, 497, 863];
  const rows = [1427, 1471];
  const cells = [[0, 1], [1, 0], [1, 1], [2, 0], [2, 1]];
  return (
    <g>
      <rect x={118} y={1403} width={1070} height={97} rx={6} fill="#fff" stroke="#d8d8d8" strokeWidth={1.5} />
      <line x1={130} x2={187} y1={rows[0]} y2={rows[0]} stroke="#000" strokeWidth={5} strokeDasharray="20 10" />
      <text transform={`translate(208,${rows[0] + 10}) scale(0.9,1)`} fontFamily={FONT} fontSize={29}>SFR<tspan dy={7} fontSize={21}>ridge</tspan></text>
      {cells.map(([c, r], i) => {
        const x0 = cols[c], yy = rows[r];
        return (
          <g key={i}>
            <line x1={x0} x2={x0 + 57} y1={yy} y2={yy} stroke={seriesColors[i]} strokeWidth={4} />
            <line x1={x0 + 28.5} x2={x0 + 28.5} y1={yy - 15} y2={yy + 15} stroke={seriesColors[i]} strokeWidth={2.5} />
            <circle cx={x0 + 28.5} cy={yy} r={3.5} fill={seriesColors[i]} />
            <text transform={`translate(${x0 + 78},${yy + 10}) scale(0.9,1)`} fontFamily={FONT} fontSize={29}>
              {legendRanges[i][0]} ≤ <tspan fontStyle="italic">n</tspan><Sub size={29} /><tspan dy={-6.96}> ≤ {legendRanges[i][1]}</tspan>
            </text>
          </g>
        );
      })}
    </g>
  );
}

export default function App() {
  return (
    <svg width={1200} height={1511} viewBox="0 0 1200 1511" style={{ position: 'absolute', left: 0, top: 0, display: 'block', background: '#fff' }}>
      <ColorBar />
      {[0, 1, 2, 3].map(i => <Panel key={i} idx={i} />)}
      <Legend />
    </svg>
  );
}
